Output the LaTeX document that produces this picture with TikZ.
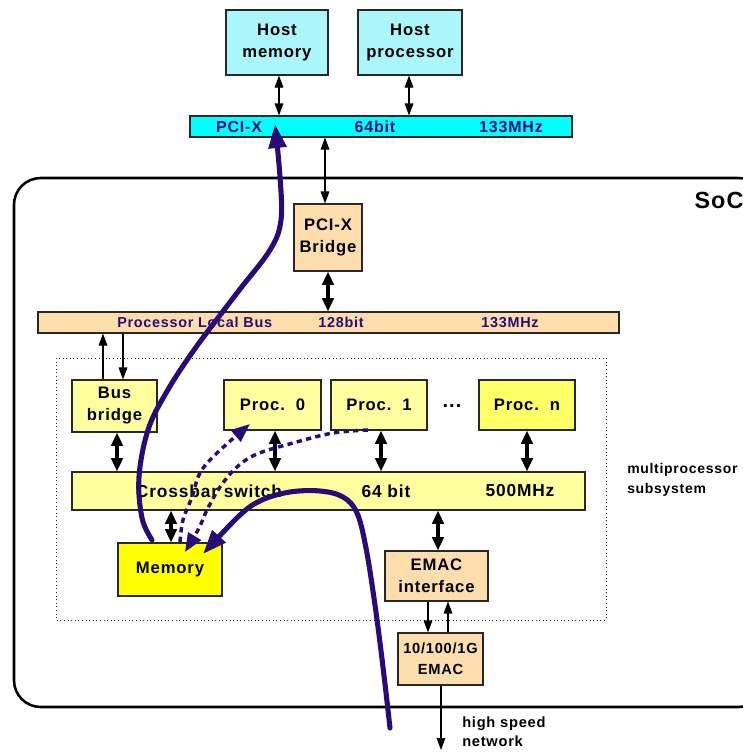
\documentclass[tikz,border=0pt]{standalone}
\usepackage{fontspec}
\setmainfont{Liberation Sans}[LetterSpace=5]
\usetikzlibrary{arrows.meta,calc}
\definecolor{hostcyan}{RGB}{170,246,250}
\definecolor{buscyan}{RGB}{0,255,255}
\definecolor{peach}{RGB}{255,222,173}
\definecolor{lyellow}{RGB}{255,255,160}
\definecolor{pyellow}{RGB}{255,255,102}
\definecolor{myellow}{RGB}{255,255,0}
\definecolor{indigo}{RGB}{40,10,120}
\definecolor{edge}{RGB}{40,40,40}
\begin{document}
\begin{tikzpicture}[x=0.75pt,y=-0.75pt,
  box/.style={draw=edge,line width=0.8pt,align=center,inner sep=0pt,
    font=\bfseries\fontsize{12.5}{16.5}\selectfont},
  bus/.style={draw=edge,line width=0.8pt,inner sep=0pt},
  buslbl/.style={text=indigo,font=\bfseries\fontsize{12}{14}\selectfont,inner sep=0pt},
  plblbl/.style={text=indigo,font=\bfseries\fontsize{10.8}{13}\selectfont,inner sep=0pt},
  xlbl/.style={font=\bfseries\fontsize{13}{15}\selectfont,inner sep=0pt},
  thick2/.style={line width=2.6pt,{Triangle[width=8.5pt,length=10pt]}-{Triangle[width=8.5pt,length=10pt]}},
  thin2/.style={line width=0.8pt,{Triangle[width=6.5pt,length=9pt]}-{Triangle[width=6.5pt,length=9pt]}},
  thin1/.style={line width=0.8pt,-{Triangle[width=6.5pt,length=9pt]}},
  flow/.style={draw=indigo,line width=3.8pt,line cap=round,-{Triangle[width=13pt,length=18pt]}},
  dflow/.style={draw=indigo,line width=2.6pt,dash pattern=on 4pt off 3.2pt,-{Triangle[width=11pt,length=14pt]}},
  plain/.style={font=\bfseries\fontsize{10.5}{15}\selectfont,align=left,inner sep=0pt}
]
\useasboundingbox (0,0) rectangle (743,754);
\clip (0,0) rectangle (743,754);

% SoC container
\draw[line width=1.9pt,rounded corners=20pt] (14,178) rectangle (765,707);
\node[font=\bfseries\fontsize{17.5}{19}\selectfont,inner sep=0pt] (soc) at (719,200) {SoC};

% multiprocessor subsystem
\draw[dotted,line width=0.7pt,draw=edge] (56,358) rectangle (606,620);
\node[plain,anchor=west] (mps) at (627,480) {multiprocessor\\subsystem};

% host side
\node[box,fill=hostcyan,minimum width=76.5pt,minimum height=48.75pt] (hmem) at (277,42.5) {\raisebox{-1.5pt}{\parbox{70pt}{\centering Host\\memory}}};
\node[box,fill=hostcyan,minimum width=78pt,minimum height=48.75pt] (hproc) at (410,42.5) {\raisebox{-1.5pt}{\parbox{74pt}{\centering Host\\processor}}};
\node[bus,fill=buscyan,minimum width=286.5pt,minimum height=15.75pt] (pcix) at (381,126.5) {};
\node[buslbl] (pcixa) at (239,126.5) {PCI-X};
\node[buslbl] (pcixb) at (375,126.5) {64bit};
\node[buslbl] (pcixc) at (511,126.5) {133MHz};

% bridge and PLB
\node[box,fill=peach,minimum width=51pt,minimum height=50.25pt] (bridge) at (328,237.5) {PCI-X\\Bridge};
\node[bus,fill=peach,minimum width=435.75pt,minimum height=15.75pt] (plb) at (328.5,322.5) {};
\node[plblbl,anchor=west] (plba) at (117,322.5) {Processor Local Bus};
\node[plblbl] (plbb) at (341,322.5) {128bit};
\node[plblbl] (plbc) at (510,322.5) {133MHz};

% subsystem boxes
\node[box,fill=lyellow,minimum width=63.75pt,minimum height=39pt] (bb) at (114.5,406) {Bus\\bridge};
\node[box,fill=lyellow,minimum width=72.75pt,minimum height=37.5pt] (p0) at (272.5,405) {Proc.~~0};
\node[box,fill=lyellow,minimum width=72pt,minimum height=37.5pt] (p1) at (379,405) {Proc.~~1};
\node[font=\bfseries\fontsize{15}{16}\selectfont,inner sep=0pt] (dots) at (452,406) {...};
\node[box,fill=pyellow,minimum width=72pt,minimum height=37.5pt] (pn) at (527,405) {Proc.~~n};
\node[bus,fill=lyellow,minimum width=384.75pt,minimum height=28.5pt] (xbar) at (328.5,491) {};
\node[xlbl] (xa) at (209,491) {Crossbar switch};
\node[xlbl] (xb) at (386,491) {64 bit};
\node[xlbl] (xc) at (520,491) {500MHz};
\node[box,fill=myellow,minimum width=78pt,minimum height=39.75pt] (mem) at (170,569.5) {Memory};
\node[box,fill=peach,minimum width=77.25pt,minimum height=37.5pt] (emif) at (436.5,576) {EMAC\\interface};
\node[box,fill=peach,minimum width=63.75pt,minimum height=39pt,font=\bfseries\fontsize{11}{15.5}\selectfont] (emac) at (440.5,659) {10/100/1G\\EMAC};
\coordinate (net) at (441,750);
\node[plain,anchor=west,font=\bfseries\fontsize{11}{14}\selectfont] (netlbl) at (462,732) {high speed\\network};

% connectors
\draw[thin2] (hmem.south -| 279,0) -- (pcix.north -| 279,0);
\draw[thin2] (hproc.south -| 409,0) -- (pcix.north -| 409,0);
\draw[thin2] (pcix.south -| 325,0) -- (bridge.north -| 325,0);
\draw[thick2] (bridge.south) -- (plb.north -| bridge.south);
\draw[thin1] (bb.north -| 103,0) -- (plb.south -| 103,0);
\draw[thin1] (plb.south -| 123,0) -- (bb.north -| 123,0);
\draw[thick2] (bb.south -| 117,0) -- (xbar.north -| 117,0);
\draw[thick2] (p0.south -| 275,0) -- (xbar.north -| 275,0);
\draw[thick2] (p1.south -| 381,0) -- (xbar.north -| 381,0);
\draw[thick2] (pn.south) -- (xbar.north -| pn.south);
\draw[thick2] (xbar.south -| 171,0) -- (mem.north -| 171,0);
\draw[thick2] (xbar.south -| 438,0) -- (emif.north -| 438,0);
\draw[thin1] (emif.south -| 428,0) -- (emac.north -| 428,0);
\draw[thin1] (emac.north -| 448,0) -- (emif.south -| 448,0);
\draw[thin1] (emac.south -| net) -- (net);

% data flows
\draw[flow] plot[smooth,tension=0.6] coordinates {(152,540) (142,518) (139,477) (148,430) (166,393) (194,350) (237,293) (270,250) (281,220) (280,177) (275,124)};
\draw[flow] plot[smooth,tension=0.6] coordinates {(390,728) (383,667) (375,605) (366,548) (357,513) (343,497) (320,491) (290,492) (262,500) (240,515) (203,554)};
\draw[dflow] plot[smooth,tension=0.6] coordinates {(180,542) (183,520) (192,497) (200,473) (217,453) (250,424)};
\draw[dflow] plot[smooth,tension=0.6] coordinates {(368,430) (333,433) (293,443) (257,454) (237,467) (220,487) (207,510) (199,528) (185,552)};
\end{tikzpicture}
\end{document}
